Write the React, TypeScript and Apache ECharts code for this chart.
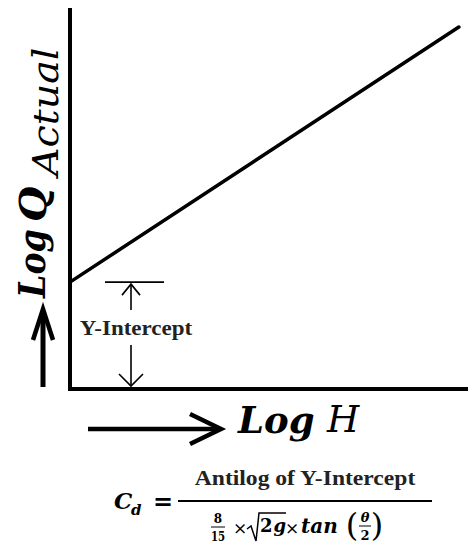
import React, { useEffect, useRef } from "react";
import * as echarts from "echarts";

// Straight-line fit of log discharge against log head
const logH = [0, 9.77];
const logQ = [2.82, 9.55];
const axisMin = 0;
const axisMax = 10;

const MATH = "'DejaVu Serif', serif";
const TIMES = "'Liberation Serif', 'Times New Roman', serif";

export default function App() {
  const ref = useRef<HTMLDivElement>(null);

  useEffect(() => {
    const chart = echarts.init(ref.current!, null, { renderer: "svg" });
    const axisStyle = {
      show: true,
      lineStyle: { color: "#000", width: 4, cap: "square" },
    };
    chart.setOption({
      animation: false,
      grid: { left: 70, right: 0, top: 10, bottom: 155 },
      xAxis: {
        type: "value",
        min: axisMin,
        max: axisMax,
        axisLine: axisStyle,
        axisTick: { show: false },
        axisLabel: { show: false },
        splitLine: { show: false },
      },
      yAxis: {
        type: "value",
        min: axisMin,
        max: axisMax,
        axisLine: axisStyle,
        axisTick: { show: false },
        axisLabel: { show: false },
        splitLine: { show: false },
      },
      series: [
        {
          type: "line",
          data: logH.map((h, i) => [h, logQ[i]]),
          symbol: "none",
          silent: true,
          lineStyle: { color: "#000", width: 3.5, cap: "round" },
        },
      ],
    });

    const [, oy] = chart.convertToPixel({ gridIndex: 0 }, [axisMin, axisMin]);
    const [, iy] = chart.convertToPixel({ gridIndex: 0 }, [axisMin, logQ[0]]);

    const stroke = (w: number) => ({ stroke: "#000", lineWidth: w, fill: null });
    const txt = (x: number, y: number, text: string, font: string, align = "center", extra: any = {}) => ({
      type: "text",
      x,
      y,
      ...extra,
      style: { text, font, fill: "#000", align, verticalAlign: "middle" },
    });
    const bx = 131;

    chart.setOption({
      graphic: [
        // intercept bracket
        { type: "line", shape: { x1: 105, y1: iy, x2: 164, y2: iy }, style: stroke(1.6) },
        { type: "line", shape: { x1: bx, y1: iy + 2, x2: bx, y2: iy + 28 }, style: stroke(1.6) },
        { type: "polyline", shape: { points: [[bx - 9, iy + 13], [bx, iy + 2], [bx + 9, iy + 13]] }, style: stroke(1.6) },
        { type: "line", shape: { x1: bx, y1: iy + 63, x2: bx, y2: oy - 3 }, style: stroke(1.6) },
        { type: "polyline", shape: { points: [[bx - 12, oy - 15], [bx, oy - 3], [bx + 12, oy - 15]] }, style: stroke(1.6) },
        {
          type: "text",
          x: 136,
          y: iy + 46,
          scaleX: 1.15,
          style: { text: "Y-Intercept", font: `bold 20px ${TIMES}`, fill: "#222", align: "center", verticalAlign: "middle" },
        },
        // vertical axis title with arrow
        {
          type: "group",
          x: 45,
          y: 298,
          rotation: Math.PI / 2,
          children: [
            txt(0, -12.8, "Log", `italic bold 37px ${MATH}`, "left", { scaleX: 0.9 }),
            txt(76, -12.8, "Q", `italic bold 37px ${MATH}`, "left", { scaleX: 1.1 }),
            txt(122, 0.5, "Actual", `italic 36px ${MATH}`, "left", { scaleX: 1.1 }),
          ],
        },
        { type: "line", shape: { x1: 43, y1: 387, x2: 43, y2: 311 }, style: stroke(5) },
        { type: "polyline", shape: { points: [[33, 340], [43, 309], [53, 340]] }, style: { ...stroke(4.5), lineJoin: "miter" } },
        // horizontal axis title with arrow
        { type: "line", shape: { x1: 88, y1: 429, x2: 219, y2: 429 }, style: stroke(4.5) },
        { type: "polyline", shape: { points: [[190, 414], [221, 429], [190, 444]] }, style: { ...stroke(4.5), lineJoin: "miter" } },
        { type: "text", x: 238, y: 438, style: { text: "Log", font: `italic bold 37px ${MATH}`, fill: "#000", align: "left", verticalAlign: "bottom" } },
        { type: "text", x: 327, y: 438, style: { text: "H", font: `italic 37px ${MATH}`, fill: "#000", align: "left", verticalAlign: "bottom" } },
        // discharge coefficient formula
        txt(114, 500, "C", `italic bold 23px ${MATH}`, "left"),
        txt(131, 510, "d", `italic bold 15px ${MATH}`, "left"),
        txt(163, 501, "=", `bold 24px ${MATH}`),
        { type: "line", shape: { x1: 178, y1: 501, x2: 432, y2: 501 }, style: stroke(2) },
        {
          type: "text",
          x: 305,
          y: 479,
          scaleX: 1.18,
          style: { text: "Antilog of Y-Intercept", font: `bold 20px ${TIMES}`, fill: "#222", align: "center", verticalAlign: "middle" },
        },
        txt(218, 519, "8", `bold 12px ${MATH}`),
        { type: "line", shape: { x1: 211, y1: 527, x2: 225, y2: 527 }, style: stroke(1) },
        txt(218, 537, "15", `bold 12px ${MATH}`, "center", { scaleX: 0.85 }),
        txt(240, 528, "×", `17px ${MATH}`),
        { type: "polyline", shape: { points: [[247, 529], [251, 526], [256, 541], [259, 513], [286, 513]] }, style: { ...stroke(1.5), lineJoin: "miter" } },
        txt(260, 525.5, "2", `bold 18px ${MATH}`, "left"),
        txt(273.5, 525.5, "g", `italic bold 18px ${MATH}`, "left"),
        txt(292, 528, "×", `17px ${MATH}`),
        txt(301, 526, "tan", `italic bold 20px ${MATH}`, "left"),
        txt(352, 525, "(", `32px ${MATH}`),
        txt(365, 517, "θ", `italic bold 13px ${MATH}`),
        { type: "line", shape: { x1: 359, y1: 526, x2: 371, y2: 526 }, style: stroke(1) },
        txt(365, 535, "2", `bold 13px ${MATH}`),
        txt(377, 525, ")", `32px ${MATH}`),
      ],
    });

    return () => chart.dispose();
  }, []);

  return (
    <div
      ref={ref}
      style={{ position: "fixed", left: 0, top: 0, width: 468, height: 544, background: "#fff" }}
    />
  );
}
